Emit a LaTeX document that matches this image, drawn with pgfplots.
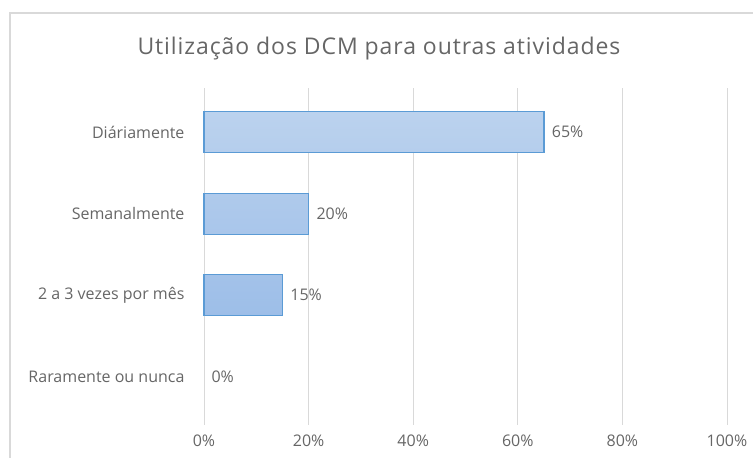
\documentclass[border=0pt]{standalone}
\usepackage{pgfplots}
\pgfplotsset{compat=1.18}
\usepackage{fontspec}
\setmainfont{Open Sans}
\newfontfamily\titlefont[LetterSpace=4]{Open Sans}
\definecolor{txt}{HTML}{666666}
\definecolor{gridc}{HTML}{D9D9D9}
\definecolor{barline}{HTML}{5B9BD5}
\definecolor{bartop}{HTML}{BBD2EE}
\definecolor{barbot}{HTML}{9DBEE8}
\definecolor{framec}{HTML}{D9D9D9}
\begin{document}
\begin{tikzpicture}[x=1pt,y=1pt]
\useasboundingbox (0,0) rectangle (753,458);
\draw[framec, line width=1.5pt] (10,0) -- (10,445) -- (753,445);
\node[txt, font=\titlefont\fontsize{23}{26}\selectfont, anchor=base] at (379,403) {Utilização dos DCM para outras atividades};
\begin{axis}[
  at={(204pt,33pt)}, anchor=south west,
  scale only axis, width=523pt, height=337pt,
  xmin=0, xmax=100, ymin=-0.59, ymax=3.54,
  xtick={0,20,...,100},
  xticklabel={\pgfmathprintnumber{\tick}\%},
  ytick={0,1,2,3},
  yticklabels={Raramente ou nunca,2 a 3 vezes por mês,Semanalmente,Diáriamente},
  axis line style={draw=none},
  major tick length=0pt,
  xmajorgrids, grid style={color=gridc, line width=0.8pt},
  tick label style={txt, font=\fontsize{16}{19}\selectfont},
  /pgf/number format/assume math mode=true,
  xticklabel style={yshift=-6pt},
  yticklabel style={xshift=-16pt},
  clip=false,
]
\addplot[xbar, bar width=41pt, bar shift=0pt, draw=barline, line width=1.2pt,
  top color=bartop, bottom color=barbot,
  nodes near coords={\pgfmathprintnumber{\pgfplotspointmeta}\%},
  nodes near coords style={txt, font=\fontsize{16}{19}\selectfont, anchor=west, xshift=4pt},
  point meta=x]
coordinates {(65,3) (20,2) (15,1)};
\addplot[xbar, bar width=41pt, bar shift=0pt, draw=none, fill=none,
  nodes near coords={\pgfmathprintnumber{\pgfplotspointmeta}\%},
  nodes near coords style={txt, font=\fontsize{16}{19}\selectfont, anchor=west, xshift=4pt},
  point meta=x]
coordinates {(0,0)};
\end{axis}
\end{tikzpicture}
\end{document}
